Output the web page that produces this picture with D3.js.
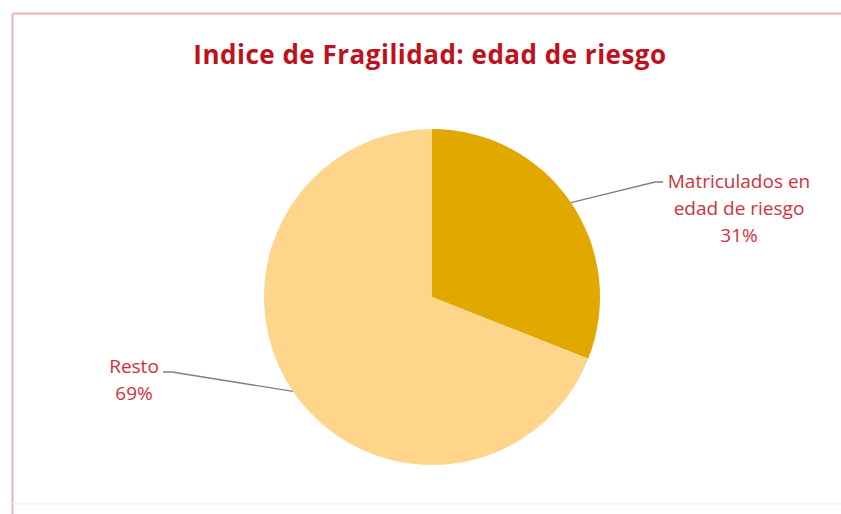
<!DOCTYPE html>
<html>
<head>
<meta charset="utf-8">
<script src="https://cdn.jsdelivr.net/npm/d3@7"></script>
<style>
  body { margin: 0; background: #fff; }
  #chart svg { display: block; }
</style>
</head>
<body>
<div id="chart"></div>
<script>
// Données
const categories = ["Matriculados en edad de riesgo", "Resto"];
const labelLines = [["Matriculados en", "edad de riesgo"], ["Resto"]];
const values = [31, 69];
const colors = ["#E1A900", "#FED58A"];

const width = 841, height = 514;
const cx = 432, cy = 297, radius = 168;

const svg = d3.select("#chart").append("svg")
  .attr("width", width)
  .attr("height", height);

// Cadre (haut et gauche visibles, bas très pâle)
svg.append("line")
  .attr("x1", 12.5).attr("y1", 13.5).attr("x2", width).attr("y2", 13.5)
  .attr("stroke", "#EBB5B5").attr("stroke-width", 2);
svg.append("line")
  .attr("x1", 12.5).attr("y1", 13.5).attr("x2", 12.5).attr("y2", height)
  .attr("stroke", "#EBB5B5").attr("stroke-width", 2);
svg.append("line")
  .attr("x1", 12.5).attr("y1", 503.5).attr("x2", width).attr("y2", 503.5)
  .attr("stroke", "#F4F4FA").attr("stroke-width", 2);

// Titre
svg.append("text")
  .attr("x", 430).attr("y", 64)
  .attr("text-anchor", "middle")
  .attr("font-family", "'Open Sans', sans-serif")
  .attr("font-weight", "bold")
  .attr("font-size", 26)
  .attr("letter-spacing", 0.5)
  .attr("fill", "#C0101C")
  .text("Indice de Fragilidad: edad de riesgo");

const pie = d3.pie().sort(null).value(d => d.value);
const arc = d3.arc().innerRadius(0).outerRadius(radius);
const data = pie(categories.map((c, i) => ({ name: c, value: values[i], lines: labelLines[i], color: colors[i] })));

const g = svg.append("g").attr("transform", `translate(${cx},${cy})`);

g.selectAll("path.slice")
  .data(data)
  .enter().append("path")
  .attr("class", "slice")
  .attr("d", arc)
  .attr("fill", d => d.data.color);

// Étiquettes avec lignes de rappel
const labelPos = [
  { x: 739, y: 188, elbow: [655, 182], lineEnd: [663, 182] },
  { x: 134, y: 373, elbow: [172, 372], lineEnd: [163, 372] }
];

data.forEach((d, i) => {
  const p = labelPos[i];
  const mid = (d.startAngle + d.endAngle) / 2;
  const ex = cx + Math.sin(mid) * radius;
  const ey = cy - Math.cos(mid) * radius;
  svg.append("polyline")
    .attr("points", [[ex, ey], p.elbow, p.lineEnd].map(q => q.join(",")).join(" "))
    .attr("fill", "none")
    .attr("stroke", "#808080")
    .attr("stroke-width", 1.3);

  const t = svg.append("text")
    .attr("text-anchor", "middle")
    .attr("font-family", "'Open Sans', sans-serif")
    .attr("font-size", 19)
    .attr("fill", "#D2303E");
  const lines = d.data.lines.concat([d.data.value + "%"]);
  lines.forEach((l, k) => {
    t.append("tspan")
      .attr("x", p.x)
      .attr("y", p.y + k * 27)
      .text(l);
  });
});
</script>
</body>
</html>
